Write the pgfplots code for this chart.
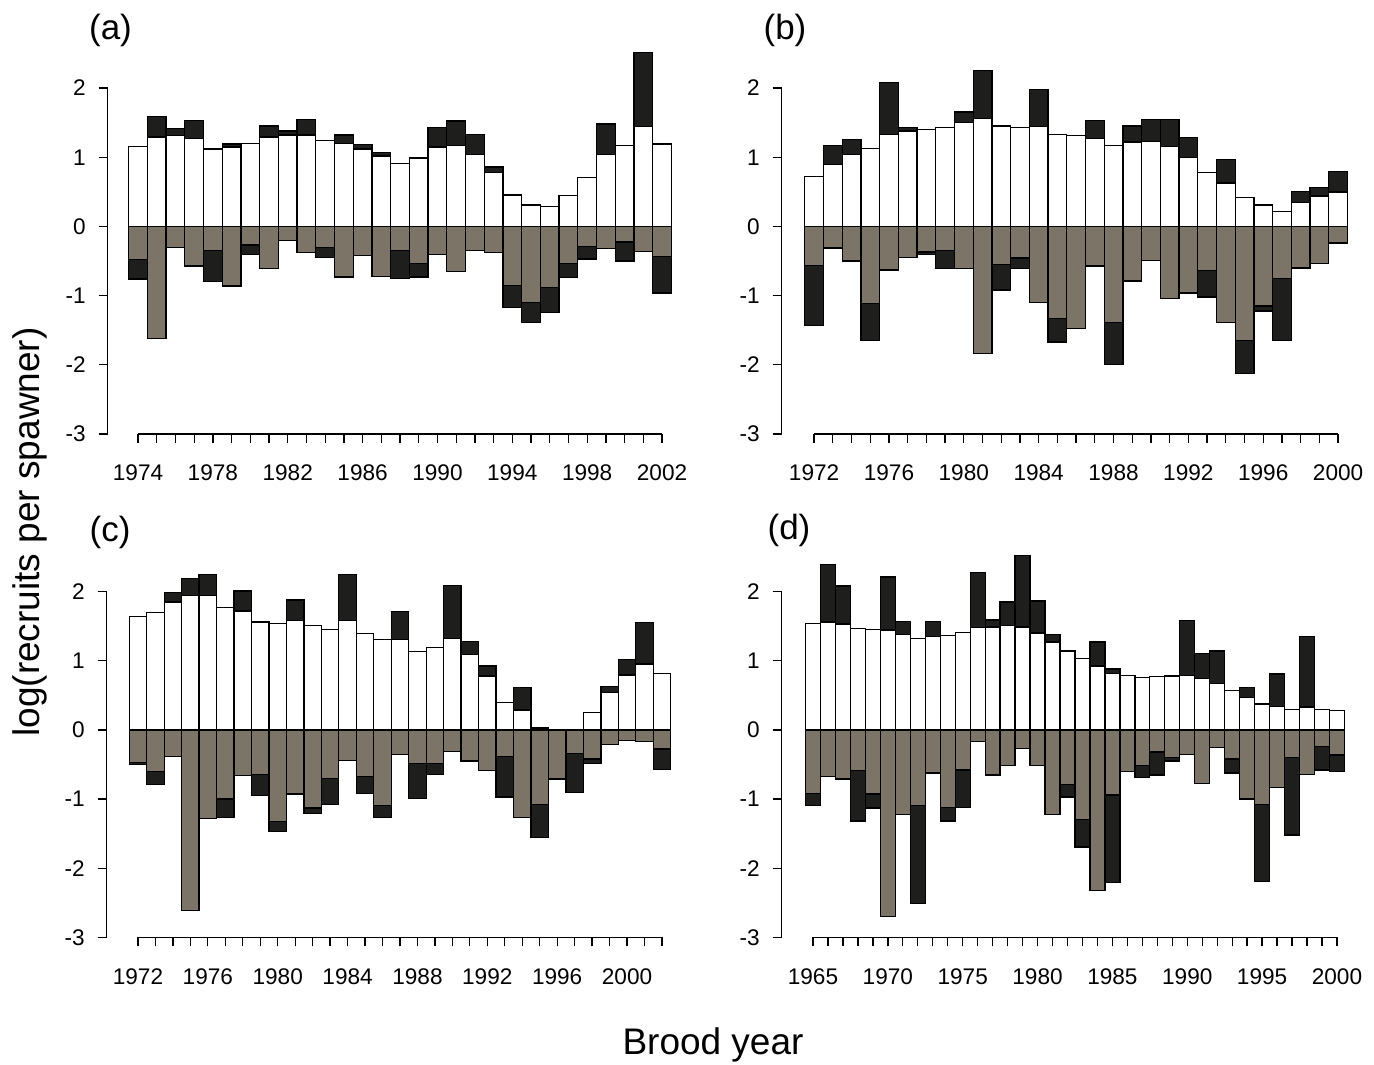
\documentclass[border=0pt]{standalone}
\usepackage{pgfplots}
\pgfplotsset{compat=1.18}
\usepackage{pgfplotstable}
\usepackage{fontspec}
\setmainfont{Liberation Sans}
\definecolor{blk}{HTML}{1E1E1C}
\definecolor{gry}{HTML}{7B7467}

\pgfplotstableread{
year w bt g bb
1974 1.16 1.16 -0.48 -0.76
1975 1.295 1.59 -1.62 -1.62
1976 1.31 1.42 -0.30 -0.30
1977 1.27 1.53 -0.57 -0.57
1978 1.12 1.12 -0.35 -0.80
1979 1.15 1.19 -0.86 -0.86
1980 1.20 1.20 -0.27 -0.41
1981 1.295 1.45 -0.61 -0.61
1982 1.32 1.38 -0.20 -0.20
1983 1.32 1.55 -0.38 -0.38
1984 1.24 1.24 -0.30 -0.45
1985 1.20 1.32 -0.73 -0.73
1986 1.12 1.18 -0.42 -0.42
1987 1.02 1.07 -0.72 -0.72
1988 0.91 0.91 -0.35 -0.75
1989 0.99 0.99 -0.54 -0.73
1990 1.15 1.43 -0.41 -0.41
1991 1.175 1.525 -0.65 -0.65
1992 1.045 1.33 -0.35 -0.35
1993 0.78 0.86 -0.38 -0.38
1994 0.455 0.455 -0.85 -1.17
1995 0.31 0.31 -1.10 -1.39
1996 0.29 0.29 -0.88 -1.24
1997 0.45 0.45 -0.54 -0.74
1998 0.71 0.71 -0.29 -0.47
1999 1.04 1.48 -0.32 -0.32
2000 1.175 1.175 -0.225 -0.50
2001 1.44 2.51 -0.36 -0.36
2002 1.19 1.19 -0.43 -0.96
}\ta

\pgfplotstableread{
year w bt g bb
1972 0.72 0.72 -0.56 -1.43
1973 0.90 1.17 -0.31 -0.31
1974 1.04 1.26 -0.50 -0.50
1975 1.13 1.13 -1.11 -1.645
1976 1.33 2.08 -0.63 -0.63
1977 1.38 1.43 -0.45 -0.45
1978 1.40 1.40 -0.37 -0.41
1979 1.43 1.43 -0.35 -0.61
1980 1.50 1.655 -0.61 -0.61
1981 1.56 2.25 -1.84 -1.84
1982 1.45 1.45 -0.55 -0.92
1983 1.43 1.43 -0.455 -0.61
1984 1.44 1.98 -1.10 -1.10
1985 1.33 1.33 -1.33 -1.67
1986 1.31 1.31 -1.48 -1.48
1987 1.27 1.535 -0.57 -0.57
1988 1.175 1.175 -1.39 -2.00
1989 1.22 1.45 -0.79 -0.79
1990 1.23 1.545 -0.49 -0.49
1991 1.16 1.545 -1.045 -1.045
1992 1.00 1.285 -0.96 -0.96
1993 0.78 0.78 -0.64 -1.02
1994 0.63 0.97 -1.39 -1.39
1995 0.42 0.42 -1.65 -2.13
1996 0.31 0.31 -1.15 -1.22
1997 0.22 0.22 -0.75 -1.65
1998 0.345 0.51 -0.60 -0.60
1999 0.44 0.56 -0.54 -0.54
2000 0.50 0.79 -0.24 -0.24
}\tb

\pgfplotstableread{
year w bt g bb
1972 1.64 1.64 -0.47 -0.50
1973 1.70 1.70 -0.60 -0.785
1974 1.85 1.99 -0.385 -0.385
1975 1.94 2.19 -2.61 -2.61
1976 1.94 2.25 -1.28 -1.28
1977 1.77 1.77 -1.00 -1.27
1978 1.72 2.01 -0.66 -0.66
1979 1.56 1.56 -0.64 -0.95
1980 1.54 1.54 -1.325 -1.47
1981 1.58 1.88 -0.925 -0.925
1982 1.51 1.51 -1.13 -1.21
1983 1.455 1.455 -0.70 -1.075
1984 1.58 2.25 -0.44 -0.44
1985 1.39 1.39 -0.67 -0.915
1986 1.31 1.31 -1.09 -1.27
1987 1.31 1.71 -0.35 -0.35
1988 1.13 1.13 -0.48 -0.99
1989 1.19 1.19 -0.48 -0.64
1990 1.325 2.09 -0.31 -0.31
1991 1.09 1.28 -0.45 -0.45
1992 0.78 0.925 -0.59 -0.59
1993 0.395 0.395 -0.385 -0.97
1994 0.29 0.61 -1.27 -1.27
1995 0.03 0.03 -1.08 -1.55
1996 0.0 0.0 -0.70 -0.72
1997 0.0 0.0 -0.34 -0.905
1998 0.25 0.25 -0.42 -0.48
1999 0.54 0.63 -0.21 -0.21
2000 0.795 1.02 -0.155 -0.155
2001 0.955 1.55 -0.17 -0.17
2002 0.82 0.82 -0.275 -0.57
}\tc

\pgfplotstableread{
year w bt g bb
1965 1.54 1.54 -0.915 -1.09
1966 1.56 2.395 -0.675 -0.675
1967 1.53 2.08 -0.71 -0.71
1968 1.47 1.47 -0.59 -1.315
1969 1.455 1.455 -0.925 -1.13
1970 1.445 2.21 -2.70 -2.70
1971 1.38 1.57 -1.22 -1.22
1972 1.32 1.32 -1.09 -2.51
1973 1.35 1.57 -0.62 -0.62
1974 1.37 1.37 -1.12 -1.315
1975 1.41 1.41 -0.58 -1.12
1976 1.48 2.28 -0.17 -0.17
1977 1.49 1.59 -0.65 -0.65
1978 1.51 1.85 -0.515 -0.515
1979 1.49 2.52 -0.265 -0.265
1980 1.40 1.865 -0.515 -0.515
1981 1.27 1.38 -1.22 -1.22
1982 1.14 1.14 -0.785 -0.97
1983 1.03 1.03 -1.29 -1.69
1984 0.925 1.27 -2.32 -2.32
1985 0.82 0.88 -0.94 -2.21
1986 0.785 0.785 -0.60 -0.60
1987 0.76 0.76 -0.51 -0.69
1988 0.77 0.77 -0.32 -0.65
1989 0.78 0.78 -0.395 -0.45
1990 0.785 1.585 -0.35 -0.35
1991 0.74 1.11 -0.775 -0.775
1992 0.675 1.14 -0.25 -0.25
1993 0.57 0.57 -0.42 -0.62
1994 0.47 0.61 -1.00 -1.00
1995 0.375 0.375 -1.075 -2.19
1996 0.34 0.81 -0.83 -0.83
1997 0.30 0.30 -0.40 -1.52
1998 0.33 1.35 -0.64 -0.64
1999 0.30 0.30 -0.24 -0.58
2000 0.28 0.28 -0.36 -0.60
}\td

\pgfplotsset{
  panel/.style={
    scale only axis,
    height=193.7pt,
    anchor=south west,
    ymin=-3, ymax=2.6,
    ytick={-3,-2,-1,0,1,2},
    yticklabels={-3,-2,-1,0,1,2},
    tick pos=left,
    tick align=outside,
    major tick length=4.5pt,
    minor tick length=4.5pt,
    tick style={black, line width=0.65pt},
    axis line style={draw=none},
    ticklabel style={font=\fontsize{11.3}{13}\selectfont},
    yticklabel style={xshift=-3pt},
    xticklabel style={yshift=-7.5pt},
    clip=false,
  },
  barb/.style={ybar, bar width=1, bar shift=0pt, draw=black, line width=0.65pt, fill=blk},
  barw/.style={ybar, bar width=1, bar shift=0pt, draw=black, line width=0.65pt, fill=white},
  barg/.style={ybar, bar width=1, bar shift=0pt, draw=black, line width=0.65pt, fill=gry},
}

\begin{document}
\begin{tikzpicture}
\useasboundingbox (0,0) rectangle (687pt,532pt);

% (a)
\begin{axis}[panel, at={(53.85pt,315pt)}, width=282.77pt,
  xmin=1972.38, xmax=2002.6,
  xtick={1974,1978,1982,1986,1990,1994,1998,2002},
  xticklabels={1974,1978,1982,1986,1990,1994,1998,2002},
  minor xtick={1974,1975,...,2002}]
\addplot[barb] table[x=year,y=bt]{\ta};
\addplot[barw] table[x=year,y=w]{\ta};
\addplot[barb] table[x=year,y=bb]{\ta};
\addplot[barg] table[x=year,y=g]{\ta};
\draw[line width=0.65pt] (axis cs:1972.38,-3) -- (axis cs:1972.38,2);
\draw[line width=0.65pt] (axis cs:1974,-3) -- (axis cs:2002,-3);
\end{axis}

% (b)
\begin{axis}[panel, at={(390.85pt,315pt)}, width=283.8pt,
  xmin=1970.27, xmax=2000.6,
  xtick={1972,1976,1980,1984,1988,1992,1996,2000},
  xticklabels={1972,1976,1980,1984,1988,1992,1996,2000},
  minor xtick={1972,1973,...,2000}]
\addplot[barb] table[x=year,y=bt]{\tb};
\addplot[barw] table[x=year,y=w]{\tb};
\addplot[barb] table[x=year,y=bb]{\tb};
\addplot[barg] table[x=year,y=g]{\tb};
\draw[line width=0.65pt] (axis cs:1970.27,-3) -- (axis cs:1970.27,2);
\draw[line width=0.65pt] (axis cs:1972,-3) -- (axis cs:2000,-3);
\end{axis}

% (c)
\begin{axis}[panel, at={(53.35pt,63.25pt)}, width=282.88pt,
  xmin=1970.21, xmax=2002.6,
  xtick={1972,1976,1980,1984,1988,1992,1996,2000},
  xticklabels={1972,1976,1980,1984,1988,1992,1996,2000},
  minor xtick={1972,1973,...,2002}]
\addplot[barb] table[x=year,y=bt]{\tc};
\addplot[barw] table[x=year,y=w]{\tc};
\addplot[barb] table[x=year,y=bb]{\tc};
\addplot[barg] table[x=year,y=g]{\tc};
\draw[line width=0.65pt] (axis cs:1970.21,-3) -- (axis cs:1970.21,2);
\draw[line width=0.65pt] (axis cs:1972,-3) -- (axis cs:2002,-3);
\end{axis}

% (d)
\begin{axis}[panel, at={(390.85pt,63.25pt)}, width=282.11pt,
  xmin=1962.91, xmax=2000.6,
  xtick={1965,1970,1975,1980,1985,1990,1995,2000},
  xticklabels={1965,1970,1975,1980,1985,1990,1995,2000},
  minor xtick={1965,1966,...,2000}]
\addplot[barb] table[x=year,y=bt]{\td};
\addplot[barw] table[x=year,y=w]{\td};
\addplot[barb] table[x=year,y=bb]{\td};
\addplot[barg] table[x=year,y=g]{\td};
\draw[line width=0.65pt] (axis cs:1962.91,-3) -- (axis cs:1962.91,2);
\draw[line width=0.65pt] (axis cs:1965,-3) -- (axis cs:2000,-3);
\end{axis}

\node[font=\fontsize{17.5}{20}\selectfont] at (55.25pt,517pt) {(a)};
\node[font=\fontsize{17.5}{20}\selectfont] at (392.5pt,517pt) {(b)};
\node[font=\fontsize{17.5}{20}\selectfont] at (55pt,266pt) {(c)};
\node[font=\fontsize{17.5}{20}\selectfont] at (394.5pt,267pt) {(d)};
\node[font=\fontsize{18.5}{22}\selectfont] at (356.5pt,9.5pt) {Brood year};
\node[font=\fontsize{18.5}{22}\selectfont, rotate=90] at (15pt,266pt) {log(recruits per spawner)};
\end{tikzpicture}
\end{document}
